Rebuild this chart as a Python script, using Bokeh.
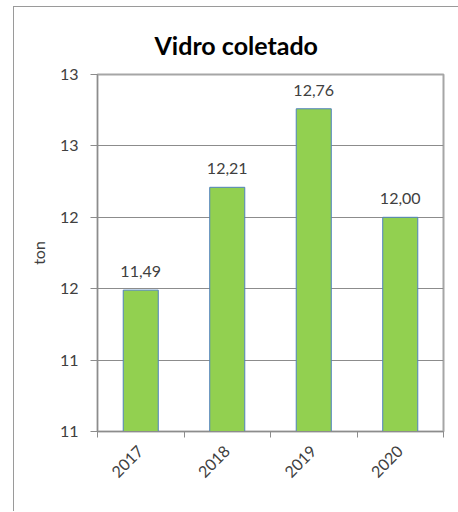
from bokeh.plotting import figure
from bokeh.models import FixedTicker, Range1d, ColumnDataSource
from bokeh.core.properties import value
from bokeh.embed import file_html
from bokeh.resources import INLINE
import math

# data
years = ["2017", "2018", "2019", "2020"]
values = [11.49, 12.21, 12.76, 12.00]
y_ticks = [10.5, 11.0, 11.5, 12.0, 12.5, 13.0]
y_tick_labels = ["11", "11", "12", "12", "13", "13"]
title_text = "Vidro coletado"
y_label = "ton"

FONT = "Lato"
TXT = "#404040"

xs = [i + 0.5 for i in range(len(years))]
labels = [f"{v:.2f}".replace(".", ",") for v in values]
src = ColumnDataSource(dict(x=xs, top=values, label=labels))

p = figure(width=445, height=505, output_backend="svg", toolbar_location=None,
           x_range=Range1d(0, len(years)), y_range=Range1d(y_ticks[0], y_ticks[-1]),
           min_border_left=83, min_border_right=16, min_border_top=67, min_border_bottom=81)
p.margin = (6, 0, 0, 13)
p.styles = {"border-top": "1px solid #9a9a9a", "border-left": "1px solid #9a9a9a"}

p.title.text = title_text
p.title.text_font = FONT
p.title.text_font_size = "25px"
p.title.text_font_style = "bold"
p.title.text_color = "black"
p.title.align = "left"
p.title.offset = 57
p.title.standoff = 30

p.vbar(x="x", top="top", bottom=y_ticks[0], width=0.405, source=src,
       fill_color="#92D050", line_color="#4F81BD", line_width=1)

p.text(x="x", y="top", text="label", source=src, text_align="center",
       text_baseline="bottom", y_offset=-13, text_font=value(FONT),
       text_font_size="16px", text_color=TXT)

# axes
p.yaxis.ticker = FixedTicker(ticks=y_ticks)
p.yaxis.major_label_overrides = {t: l for t, l in zip(y_ticks, y_tick_labels)}
p.yaxis.axis_label = y_label
p.yaxis.axis_label_text_font = FONT
p.yaxis.axis_label_text_font_size = "16px"
p.yaxis.axis_label_text_font_style = "normal"
p.yaxis.axis_label_text_color = TXT
p.yaxis.axis_label_standoff = 9
p.yaxis.major_label_text_font = FONT
p.yaxis.major_label_text_font_size = "16px"
p.yaxis.major_label_text_color = TXT
p.yaxis.major_label_standoff = 12
p.yaxis.major_tick_out = 7
p.yaxis.major_tick_in = 0
p.yaxis.minor_tick_out = 0
p.yaxis.minor_tick_in = 0
p.yaxis.axis_line_color = "#8c8c8c"
p.yaxis.major_tick_line_color = "#8c8c8c"

p.xaxis.ticker = FixedTicker(ticks=xs, minor_ticks=list(range(len(years) + 1)))
p.xaxis.major_label_overrides = {x: y for x, y in zip(xs, years)}
p.xaxis.major_label_orientation = math.pi / 4
p.xaxis.major_label_text_font = FONT
p.xaxis.major_label_text_font_size = "16px"
p.xaxis.major_label_text_color = TXT
p.xaxis.major_label_standoff = 11
p.xaxis.major_tick_out = 0
p.xaxis.major_tick_in = 0
p.xaxis.minor_tick_out = 6
p.xaxis.minor_tick_in = 0
p.xaxis.minor_tick_line_color = "#8c8c8c"
p.xaxis.axis_line_color = "#8c8c8c"

p.xgrid.visible = False
p.ygrid.ticker = FixedTicker(ticks=y_ticks)
p.ygrid.grid_line_color = "#8c8c8c"
p.ygrid.grid_line_width = 1

p.outline_line_color = "#a6a6a6"
p.outline_line_width = 2
p.background_fill_color = "white"
p.border_fill_color = "white"

open("out.html", "w").write(file_html(p, INLINE))
